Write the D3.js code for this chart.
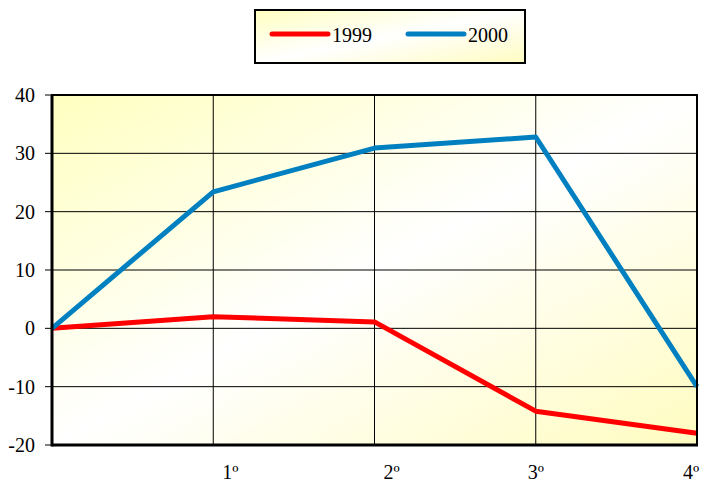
<!DOCTYPE html>
<html><head><meta charset="utf-8">
<script src="https://cdn.jsdelivr.net/npm/d3@7"></script>
<style>body{margin:0;background:#fff;} svg{display:block;}</style>
</head><body>
<svg id="c" width="703" height="485"></svg>
<script>
const categories = ["", "1º", "2º", "3º", "4º"];
const series1999 = [0, 2.0, 1.1, -14.2, -18.0];
const series2000 = [0, 23.4, 30.9, 32.8, -10.0];
const yTicks = [-20, -10, 0, 10, 20, 30, 40];
const seriesNames = ["1999", "2000"];
const seriesColors = ["#ff0000", "#0080c0"];

const FONT = "'Liberation Serif'";
const svg = d3.select("#c");
const m = {l: 52, r: 697, t: 95, b: 445};
const x = d3.scalePoint().domain(d3.range(categories.length)).range([m.l, m.r]);
const y = d3.scaleLinear().domain([-20, 40]).range([m.b, m.t]);

const defs = svg.append("defs");
function grad(id){
  const g = defs.append("linearGradient").attr("id", id)
    .attr("x1","0%").attr("y1","0%").attr("x2","100%").attr("y2","100%");
  g.append("stop").attr("offset","0%").attr("stop-color","#ffffc0");
  g.append("stop").attr("offset","50%").attr("stop-color","#ffffff");
  g.append("stop").attr("offset","100%").attr("stop-color","#fffcc0");
}
grad("bg"); grad("lg");

svg.append("rect").attr("x", m.l).attr("y", m.t).attr("width", m.r - m.l).attr("height", m.b - m.t)
  .attr("fill", "url(#bg)");

svg.append("g").selectAll("line").data(yTicks).join("line")
  .attr("x1", m.l - 7).attr("x2", m.r).attr("y1", d => y(d)).attr("y2", d => y(d))
  .attr("stroke", "#000").attr("stroke-width", 1);
svg.append("g").selectAll("line").data(d3.range(1, categories.length)).join("line")
  .attr("x1", d => x(d)).attr("x2", d => x(d)).attr("y1", m.t).attr("y2", m.b)
  .attr("stroke", "#000").attr("stroke-width", 1);

svg.append("g").selectAll("text").data(yTicks).join("text")
  .attr("x", 35).attr("y", d => y(d)).attr("dy", "0.35em").attr("text-anchor", "end")
  .style("font-family", FONT).attr("font-size", 20).attr("fill", "#000").text(d => d);

const xLabelShift = [0, 17, 17, 0, -6];
svg.append("g").selectAll("text").data(d3.range(1, categories.length)).join("text")
  .attr("x", d => x(d) + xLabelShift[d]).attr("y", 479).attr("text-anchor", "middle")
  .style("font-family", FONT).attr("font-size", 20).attr("fill", "#000").text(d => categories[d]);

const line = d3.line().x((d, i) => x(i)).y(d => y(d));
[series1999, series2000].forEach((s, k) => {
  svg.append("path").datum(s).attr("d", line).attr("fill", "none")
    .attr("stroke", seriesColors[k]).attr("stroke-width", 5).attr("stroke-linejoin", "round");
});

svg.append("rect").attr("x", m.l).attr("y", m.t).attr("width", m.r - m.l).attr("height", m.b - m.t)
  .attr("fill", "none").attr("stroke", "#000").attr("stroke-width", 2);
svg.append("line").attr("x1", m.l).attr("x2", m.l).attr("y1", m.t).attr("y2", m.b + 1.5)
  .attr("stroke", "#000").attr("stroke-width", 3);
svg.append("line").attr("x1", m.l).attr("x2", m.r + 1).attr("y1", m.b).attr("y2", m.b)
  .attr("stroke", "#000").attr("stroke-width", 3);

const lg = svg.append("g");
lg.append("rect").attr("x", 255).attr("y", 10).attr("width", 270).attr("height", 53)
  .attr("fill", "url(#lg)").attr("stroke", "#000").attr("stroke-width", 2);
const legX = [272, 408];
seriesNames.forEach((n, k) => {
  lg.append("line").attr("x1", legX[k]).attr("x2", legX[k] + 56).attr("y1", 34).attr("y2", 34)
    .attr("stroke", seriesColors[k]).attr("stroke-width", 5).attr("stroke-linecap", "round");
  lg.append("text").attr("x", legX[k] + 60).attr("y", 42)
    .style("font-family", FONT).attr("font-size", 20).attr("fill", "#000").text(n);
});
</script>
</body></html>
